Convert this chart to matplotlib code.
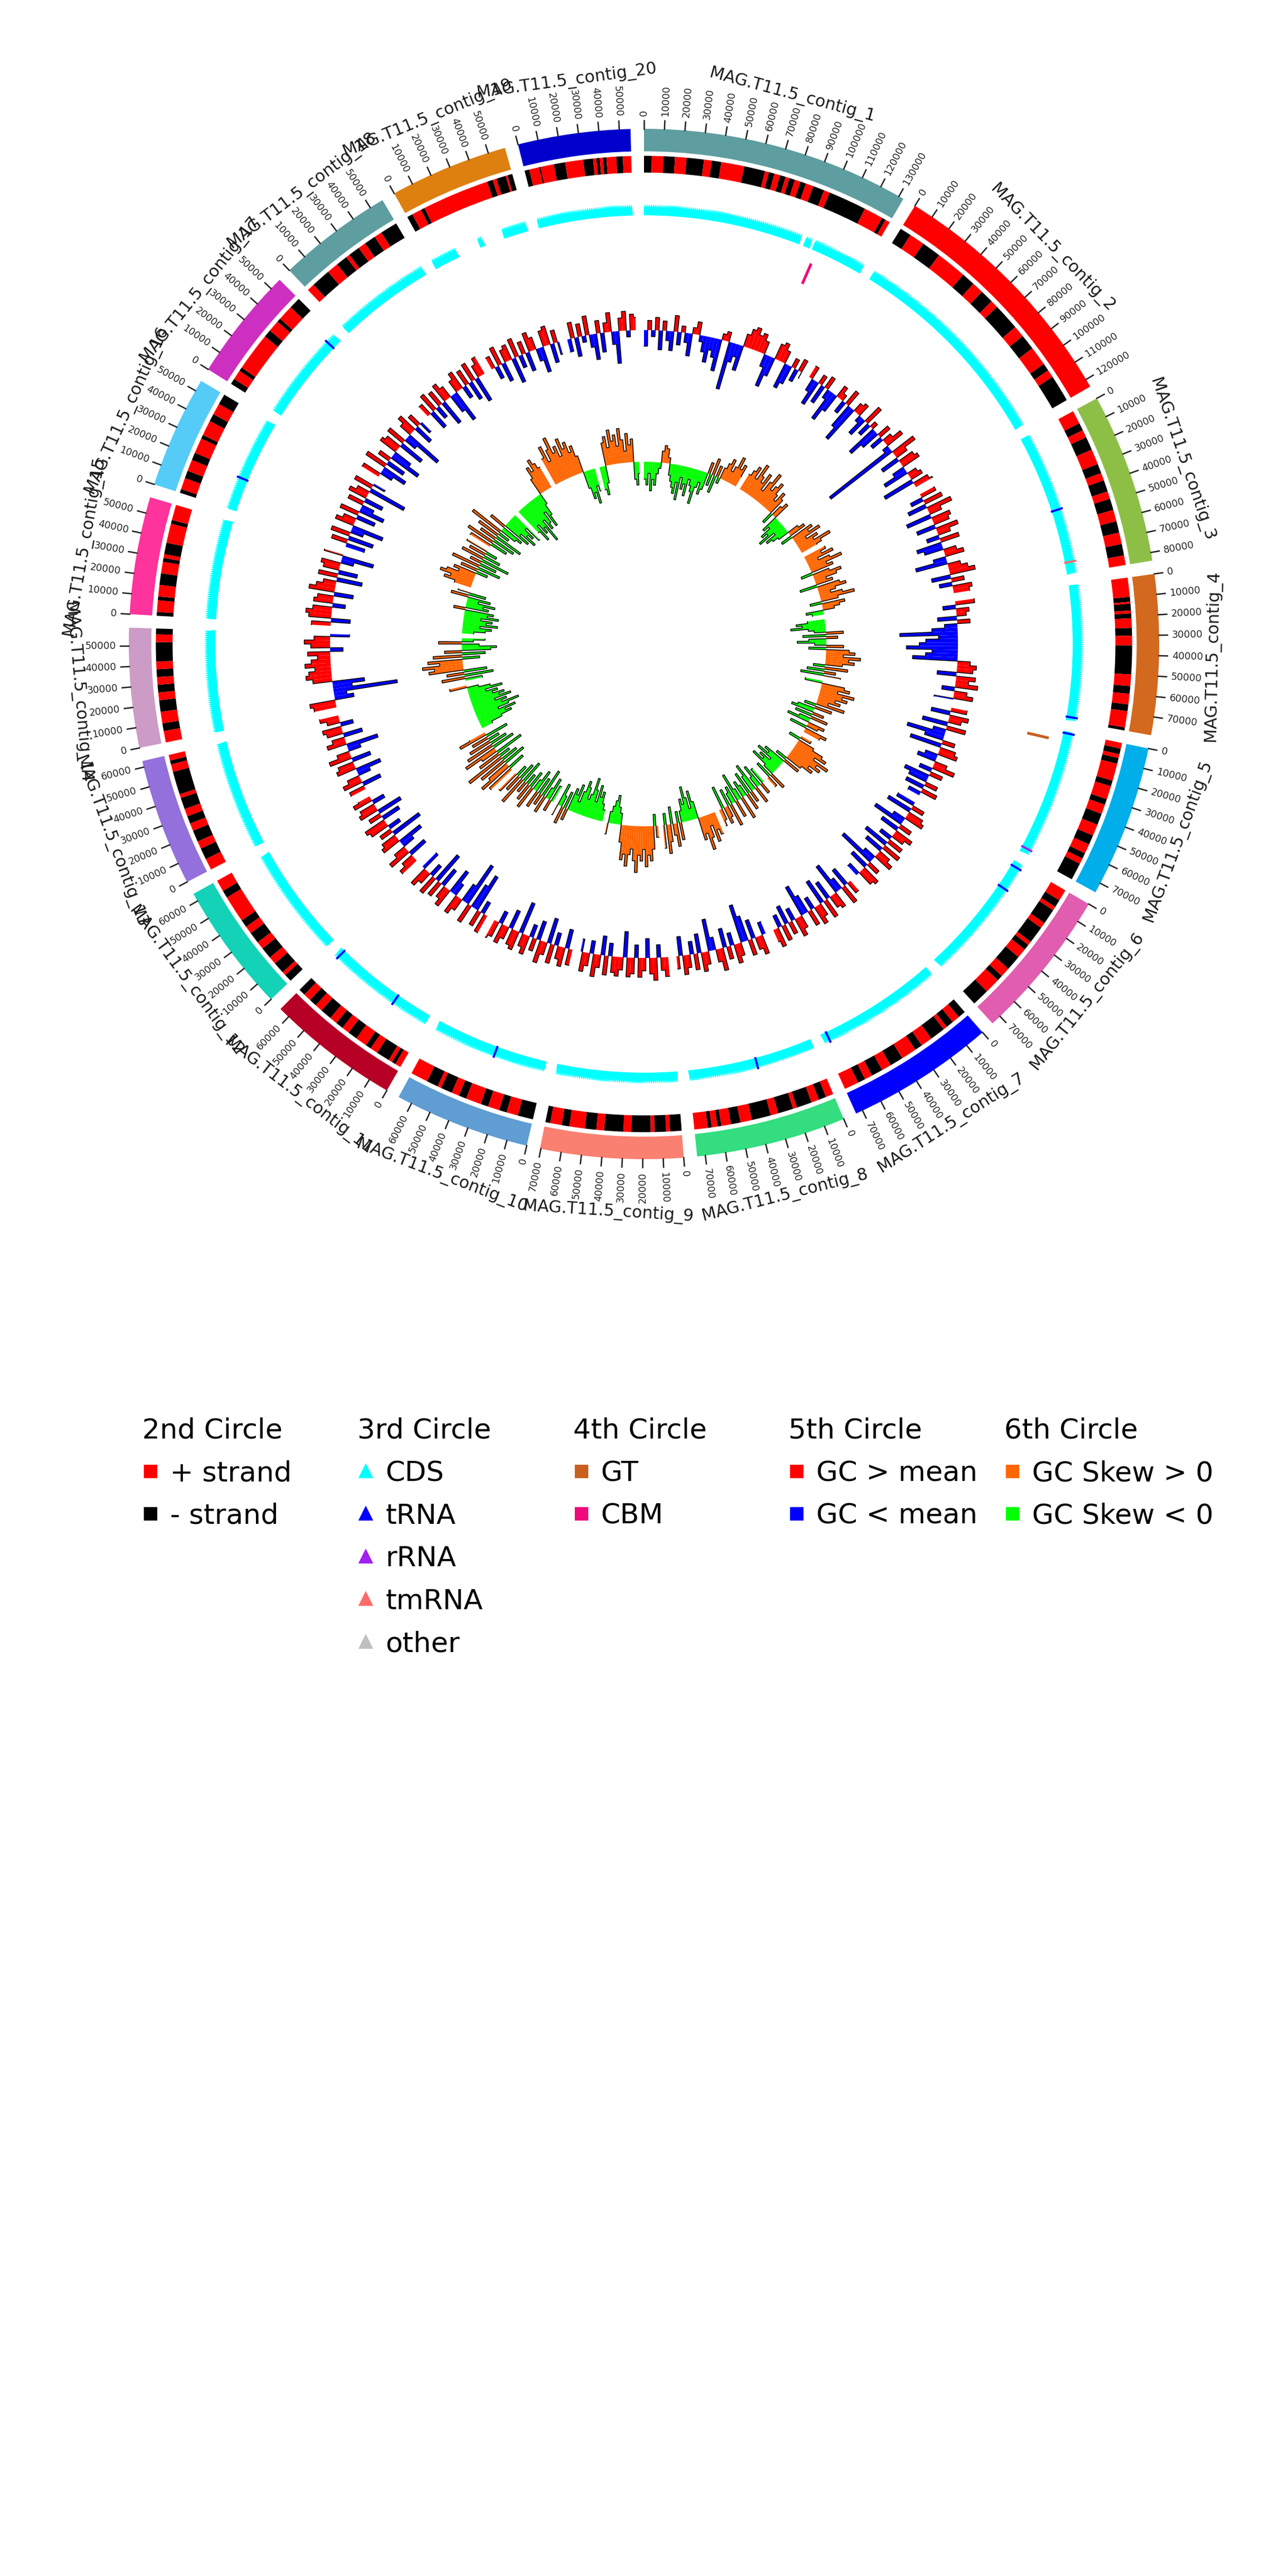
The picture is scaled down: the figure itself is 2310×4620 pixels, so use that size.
import numpy as np
import matplotlib.pyplot as plt
from matplotlib.lines import Line2D

# contigs, clockwise from the top
contig_names = ["MAG.T11.5_contig_%d" % i for i in range(1, 21)]
contig_lengths = [132500, 124000, 84000, 79000, 75000, 75000, 73500, 74000, 70500, 67000,
                  65500, 64000, 63000, 59000, 58000, 55500, 56000, 57000, 58500, 55500]
contig_colors = ["#5f9ea0", "#ff0000", "#8dbf47", "#d2691e", "#00aeea", "#e05db0", "#0000ff",
                 "#33dd80", "#fa8072", "#5f9dd3", "#b70025", "#14d2b8", "#9370db", "#cc9cc6",
                 "#fe339c", "#55ccf8", "#cd30c1", "#5f9ea0", "#dd8010", "#0000cd"]

# 2nd circle : gene strand, runs in kb alternating from the first strand
strand_first = ["-", "-", "+", "+", "+", "+", "-", "+", "-", "-",
                "+", "-", "+", "+", "-", "-", "-", "+", "-", "-"]
strand_runs_kb = [
    [4, 6, 6, 6, 9, 4, 5, 12, 11, 2, 3, 3, 3, 2, 3, 3, 3, 4, 6, 3, 20, 10, 2, 2.5],
    [6, 8, 10, 16, 7, 6, 7, 4, 14, 6, 8, 10, 4, 4, 14],
    [7, 4, 4, 7, 8, 5, 4, 6, 4, 6, 6, 6, 6, 6, 5],
    [10, 2.5, 1, 3.5, 1.5, 2.5, 5, 4, 5, 15, 6, 4, 5.5, 3.5, 8.5, 1.5],
    [3, 3, 2, 3, 9, 3, 7, 3, 5, 6, 6, 5, 5, 3, 3, 9],
    [6, 4, 2, 8, 3, 9, 2, 3, 5, 8, 5, 3, 8, 9],
    [4, 4, 4, 2, 8, 6, 4, 8, 7, 5, 6, 4, 4, 7.5],
    [4, 4, 4, 8, 2, 8, 4, 10, 6, 5, 5, 2, 3, 2, 7],
    [6, 2, 6, 2, 10, 4, 10, 4, 6, 8, 4, 6, 2.5],
    [8, 6, 4, 6, 4, 8, 4, 4, 6, 2, 6, 9],
    [3, 2, 2, 7, 4, 3, 6, 5, 4, 4, 4, 6, 4, 4, 4, 3.5],
    [4, 2, 6, 4, 6, 4, 6, 4, 4, 14, 4, 6],
    [6, 6, 4, 6, 4, 4, 4, 6, 2, 12, 4, 2, 3],
    [6, 4, 6, 6, 4, 4, 4, 4, 4, 10, 4, 3],
    [2, 6, 2, 6, 6, 6, 2, 2, 6, 10, 2, 8],
    [2, 6, 4, 6, 4, 8, 2, 8, 4, 6, 5.5],
    [3, 5, 2, 20, 4, 6, 2, 8, 6],
    [4, 10, 6, 6, 2, 6, 4, 6, 4, 9],
    [3, 5, 2, 35, 3, 2, 5, 1, 2.5],
    [2.5, 5.2, 0.8, 6.9, 5.9, 9.4, 5.1, 1.7, 1.7, 1.7, 1.8, 5.1, 3.4, 4.3],
]

# 3rd circle : CDS coverage gaps (kb) and RNA genes (contig number, kb)
cds_gaps_kb = [[(93, 95.5), (99.5, 101)], [], [], [], [], [], [], [], [], [],
               [], [], [], [], [], [], [], [], [(15.5, 29), (32, 44)], []]
trna_contig = [3, 4, 5, 6, 6, 7, 8, 10, 11, 11, 16, 17]
trna_kb = [46, 77, 1, 3, 17, 70, 34, 30, 22, 63, 19, 50]
rrna_contig = [5]
rrna_kb = [72]
tmrna_contig = [3]
tmrna_kb = [77]

# 4th circle : CAZymes
gt_contig = [5]
gt_kb = [6]
cbm_contig = [1]
cbm_kb = [104]

# 5th circle : GC content minus mean, 3 kb windows
gc_dev = [
    [-2.5, 1.5, -1, 2, -3, 1.5, -1.5, -3, 2.5, -2, 1, -1.5, -3.5, 1, 2, -1, -2.5, -4, -2, -3, -5, 1, 1.5,
     -7.5, -3, -2, -4, 2, 3, 3.5, 2.5, 3, 2, -2, -5, -3, 2.5, 3, 2, -4, -3, 1.5, -2, 2, -1],
    [2, -2, -4, 1.5, -3, 2, -1.5, -5, -3, 2, 1, -2, 2.5, -4, -6, 1.5, 2, -1, -3, 3, -2, 1, -5, -3, 2,
     -2, 1.5, 3, -1, -12, 4, 2, -3, 2.5, 3, -2, -4, 1.5, 2, -5, 2.5, 3],
    [2.5, -2, 3, -3, 4, 2, -4, 3, 2.5, -3, 3.5, 2, -2, 3, -4, -3, 2, 3, -2, -5, 2, 3, 4, -3, 2, -2, 3, 2.5],
    [3, -2, 2, 1.5, -3, 2, -2, -4, -9, -3, -5, -6, -8, -4, -5, -7, 2, 3, 2.5, -3, 3, 2, 3.5, -2, 2, 3, -3],
    [2.5, -3, 3, 2, -4, 3, -2, -6, -3, 2, -5, 2.5, 3, -2, -3, 2, 3.5, -2, 2, -4, -3, 2, -3, 2.5, -2],
    [-3, 2, -4, 2.5, 3, -2, -5, 2, -3, 3, 2, -2, 2.5, -4, 3, -3, 2, 3, -2, -6, 2, -3, 3, 2.5, -2],
    [2, -3, 3, -2, -5, 2.5, 2, -3, 3, -4, 2, 3, -2, 2.5, -3, -5, 2, 3, -2, 2, -3, 2.5, -2, 3, 2],
    [-2, 3, 2, -3, 2.5, -4, -6, 2, 3, -2, 2, -3, 3.5, 2, -2, -5, 2, 3, -3, 2.5, -2, 2, 3, -3, 2],
    [3, 2, -2, 3.5, 2.5, -3, 2, 3, -2, 2.5, 3, -4, 2, 3, 2.5, -2, 3, -3, 2, 3.5, -2, 2, 3, -2],
    [2.5, -3, 3, 2, -2, 3, -4, 2, 3.5, -3, 2, -2, 3, 2, -5, 3, 2.5, -3, 2, 3, -2, 2.5, 3],
    [3, -2, 2.5, -6, -4, 3, -7, -3, 2, 3, -2, -4, 3, 2, -3, 2.5, -5, 3, -2, 2, 3, -3],
    [3, 2, -3, 3.5, 2, -2, -4, 3, 2.5, -5, 2, -2, 3, 3.5, -3, 2, -4, 3, 2.5, -2, 3, 2],
    [2.5, -3, 3, 2, -2, -4, 3, 2.5, -3, 3.5, 2, -2, -5, 3, 2, -3, 2.5, 3, -2, 2, 3],
    [3.5, 4, -3, -2, -10, -3, -5, 3, 4, 3.5, 2.5, 4, 3, 2, 3.5, -2, 3, 4, 2.5, -3],
    [3, -3, 3.5, 4, 3, -2, 3, 2.5, -3, 4, 3, 2, -4, 3, -3, 2.5, 3, -2, -5, 3],
    [-3, 2.5, -4, 3, -2, -5, 3, 2, -3, 3, -4, -2, 2.5, -3, 3, 2, -6, 3, -2],
    [3, -2, -4, 3.5, -3, 2, -5, -3, 3, 2.5, -4, 3, -2, -6, 2, 3, -3, 2, -2],
    [2, -3, 3, -2, 2.5, -4, 3, 2, -3, -5, 2, 3, -2, 2.5, -3, 3, -4, 2, 3],
    [2, -2, 3, -3, 2, 2.5, -4, 3, -2, 2, -3, 3, 2, -2, -4, 2.5, 3, -3, 2, -2],
    [-2, 2.5, -3, 2, -1, 3, -2, -4, 2, -3, 1.5, 3, -2, -5, 2, 3, -1, 2.5, 2],
]

# 6th circle : GC skew, 3 kb windows
gc_skew = [
    [-3, -4, -2, -5, -3, -4, -2, -1, 2, 3, 2.5, 1, -2, -3, -4, -5, -3, -6, -2, -4, -3, -5, -2, -3, -4,
     -6, -3, -2, -4, -3, 2, -2, 3, -3, 2, -1, 2, 3, 4, 2, 3, 5, 3, 4, 2],
    [3, 4, 5, 3, 6, 4, 3, 5, 2, 4, 6, 3, 4, 5, 3, 2, 4, 3, -2, 2, 3, -3, -2, -4, -3, -5, -2, -4, -3,
     -2, 2, 3, -2, 4, 3, 5, 2, 4, 3, 6, 4, 3],
    [4, 3, 5, 2, 4, 6, 3, 4, -2, 3, 5, 4, 2, 3, -3, 4, 5, 3, 2, 4, 6, 3, -2, 4, 3, 2, -3, -2],
    [-3, -5, -4, -6, -3, -2, 3, -4, 2, -3, -5, -2, 3, -3, 4, 5, 3, 6, 4, 5, 3, -2, 4, -3, 2, -4, 3],
    [-3, 4, 5, 3, 6, 4, 5, 3, 4, 2, 5, -2, 3, -3, -4, 2, -3, 3, -2, -4, 3, 2, -3, 4, 3],
    [2, -2, 3, 5, 6, 4, 7, 5, 6, 4, 5, 3, -2, 3, -4, -3, -5, -2, -4, -3, -5, -2, 3, -3, 2],
    [-3, 2, -4, -2, 3, -5, -3, 2, -4, 3, -2, -3, 4, -2, -5, 3, -3, -2, 4, -3, 2, 3, -4, 2, 3],
    [4, 3, 5, 2, 4, 6, 3, 4, -3, -5, -2, -4, -6, -3, -4, -2, 3, -2, 4, 2, -3, 3, 5, -2, 4],
    [2, -2, 4, 6, 5, 7, 4, 6, 5, 8, 6, 4, 5, 7, 5, 6, 3, -2, -3, -5, -4, -3, -2, 2],
    [-2, -3, -5, -4, -6, -3, -5, -7, -4, -3, -5, -6, -4, -2, -5, -3, -4, 2, -3, 3, -2, -4, 2],
    [-3, 2, -4, -2, 3, -5, 2, -3, 3, -4, -2, 4, -3, 3, -2, 2, -4, 5, -3, 3, -2, 4],
    [5, -3, 6, 4, -4, 5, -3, 7, -2, 4, -5, 3, 6, -4, 5, -3, 4, -2, 3, -4, 5, 3],
    [-2, -4, -6, -5, -7, -4, -6, -8, -5, -6, -4, -7, -5, -6, -4, -5, -3, -6, -4, -2, 3],
    [-3, 4, -5, 3, -4, 6, 5, 7, 4, 6, -3, 5, -4, 3, -5, -6, -3, 4, -2, -4],
    [-2, -4, -5, -3, -6, -4, -5, -3, -6, -4, -5, 2, -4, -3, -5, -2, -4, 3, -3, 2],
    [3, 5, 4, 6, 5, 3, 4, -2, 3, -4, 5, -3, 2, -5, 4, -3, 3, -2, 4],
    [4, -3, 5, -4, 3, -5, 4, -2, 6, -3, -4, 3, -5, -3, -6, -4, -5, -3, -6],
    [-5, -7, -4, -6, -5, -8, -4, -6, -5, -3, -6, -4, -2, 3, 5, 4, 6, 5, 4],
    [5, 7, 4, 6, 8, 5, 6, 4, 7, 5, 6, 4, 5, 3, -3, -5, -4, -6, -3, -4],
    [-4, -5, -3, 4, 5, 3, 6, 4, 5, 3, 6, 4, 2, 5, 3, 4, -3, -4, -2],
]

WINDOW = 3000
SPACE = 1.5  # degrees between contigs
TOOTH = 1200  # bp, look of the CDS arrows

# track radii (0-100)
R_BAR = (76.5, 80.0)
R_STRAND = (73.2, 75.8)
CDS_IN, CDS_TOP, CDS_TIP = 66.6, 67.7, 68.2
R_CAZY = (61.3, 64.3)
GC_BASE = 48.75
SKEW_BASE = 28.3
SKEW_SCALE = 0.9

deg_per_bp = (360 - SPACE * len(contig_lengths)) / sum(contig_lengths)
starts = []
a = 0.0
for L in contig_lengths:
    starts.append(a)
    a += L * deg_per_bp + SPACE


def theta(i, pos):
    return np.deg2rad(starts[i] + np.asarray(pos, dtype=float) * deg_per_bp)


def span(bp):
    return np.deg2rad(np.asarray(bp, dtype=float) * deg_per_bp)


def window_track(i, values, base, scale, pos_color, neg_color):
    L = contig_lengths[i]
    vals = np.array(values, dtype=float) * scale
    x0 = np.arange(len(vals)) * WINDOW
    x1 = np.minimum(x0 + WINDOW, L)
    ax.bar(theta(i, x0), vals, width=span(x1 - x0), bottom=base, align="edge",
           color=np.where(vals > 0, pos_color, neg_color), lw=0)
    # black step outline
    px = np.column_stack([x0, x1]).ravel()
    pr = np.repeat(base + vals, 2)
    ax.plot(theta(i, px), pr, color="black", lw=0.35)


fig = plt.figure(figsize=(7.7, 15.4), dpi=300)
ax = fig.add_axes([0, 0.5, 1, 0.5], polar=True)
ax.set_theta_zero_location("N")
ax.set_theta_direction(-1)
ax.set_ylim(0, 100)
ax.axis("off")

for i, L in enumerate(contig_lengths):
    # 1st circle : contig bar, ticks, labels
    ax.bar(theta(i, 0), R_BAR[1] - R_BAR[0], width=span(L), bottom=R_BAR[0],
           align="edge", color=contig_colors[i], lw=0)
    for pos in range(0, L + 1, 10000):
        t = theta(i, pos)
        ax.plot([t, t], [80.0, 81.3], color="#222222", lw=0.6)
        deg = np.rad2deg(t) % 360
        if deg < 180:
            rot, ha = 90 - deg, "left"
        else:
            rot, ha = 270 - deg, "right"
        ax.text(t, 82.0, str(pos), rotation=rot, rotation_mode="anchor",
                ha=ha, va="center", fontsize=4.2, color="#222222")
    tc = theta(i, L / 2)
    deg = np.rad2deg(tc) % 360
    rot = -deg
    if 90 < deg <= 270:
        rot += 180
    ax.text(tc, 88.3, contig_names[i], rotation=rot, rotation_mode="anchor",
            ha="center", va="center", fontsize=7.2, color="#1a1a1a")

    # 2nd circle : strand
    pos = 0.0
    s = strand_first[i]
    for run in strand_runs_kb[i]:
        end = min(pos + run * 1000, L)
        ax.bar(theta(i, pos), R_STRAND[1] - R_STRAND[0], width=span(end - pos),
               bottom=R_STRAND[0], align="edge",
               color="#ff0000" if s == "+" else "#000000", lw=0)
        pos = end
        s = "-" if s == "+" else "+"

    # 3rd circle : CDS band with arrow teeth
    segs = []
    cur = 0.0
    for g0, g1 in cds_gaps_kb[i]:
        segs.append((cur, g0 * 1000))
        cur = g1 * 1000
    segs.append((cur, L))
    for s0, s1 in segs:
        n = max(int((s1 - s0) / TOOTH), 1)
        edges = np.linspace(s0, s1, n + 1)
        op, orr = [], []
        for k in range(n):
            op += [edges[k], (edges[k] + edges[k + 1]) / 2]
            orr += [CDS_TOP, CDS_TIP]
        op.append(s1)
        orr.append(CDS_IN)
        bp = np.linspace(s1, s0, 80)
        ax.fill(theta(i, np.r_[op, bp]), np.r_[orr, np.full(80, CDS_IN)],
                color="#00ffff", lw=0.2, ec="#00ffff")

    # 5th circle : GC content, 6th circle : GC skew
    window_track(i, gc_dev[i], GC_BASE, 1.0, "#ff0000", "#0000ff")
    window_track(i, gc_skew[i], SKEW_BASE, SKEW_SCALE, "#ff6600", "#00ff00")

# RNA marks on the 3rd circle
for cs, ks, col in [(trna_contig, trna_kb, "#0000ff"), (rrna_contig, rrna_kb, "#a020f0"),
                    (tmrna_contig, tmrna_kb, "#ff6a6a")]:
    for c, k in zip(cs, ks):
        t = theta(c - 1, k * 1000)
        ax.plot([t, t], [CDS_IN, CDS_TIP], color=col, lw=0.9)

# 4th circle : CAZymes
for cs, ks, col in [(gt_contig, gt_kb, "#c8601e"), (cbm_contig, cbm_kb, "#f0087a")]:
    for c, k in zip(cs, ks):
        t = theta(c - 1, k * 1000)
        ax.plot([t, t], [R_CAZY[0], R_CAZY[1]], color=col, lw=1.2)

# legends
legend_cols = [
    ("2nd Circle", ["+ strand", "- strand"], ["#ff0000", "#000000"], "s"),
    ("3rd Circle", ["CDS", "tRNA", "rRNA", "tmRNA", "other"],
     ["#00ffff", "#0000ff", "#a020f0", "#ff6a6a", "#c0c0c0"], "^"),
    ("4th Circle", ["GT", "CBM"], ["#c8601e", "#f0087a"], "s"),
    ("5th Circle", ["GC > mean", "GC < mean"], ["#ff0000", "#0000ff"], "s"),
    ("6th Circle", ["GC Skew > 0", "GC Skew < 0"], ["#ff6600", "#00ff00"], "s"),
]
for k, (title, labels, colors, marker) in enumerate(legend_cols):
    handles = [Line2D([], [], ls="none", marker=marker, markersize=5, color=c) for c in colors]
    fig.legend(handles, labels, title=title, loc="upper left",
               bbox_to_anchor=(0.1103 + 0.1673 * k, 0.4498), frameon=False,
               fontsize=12, title_fontsize=12, alignment="left",
               handlelength=0.6, handletextpad=0.4, labelspacing=0.57,
               borderpad=0, borderaxespad=0)

fig.savefig("out.png", dpi=300)
